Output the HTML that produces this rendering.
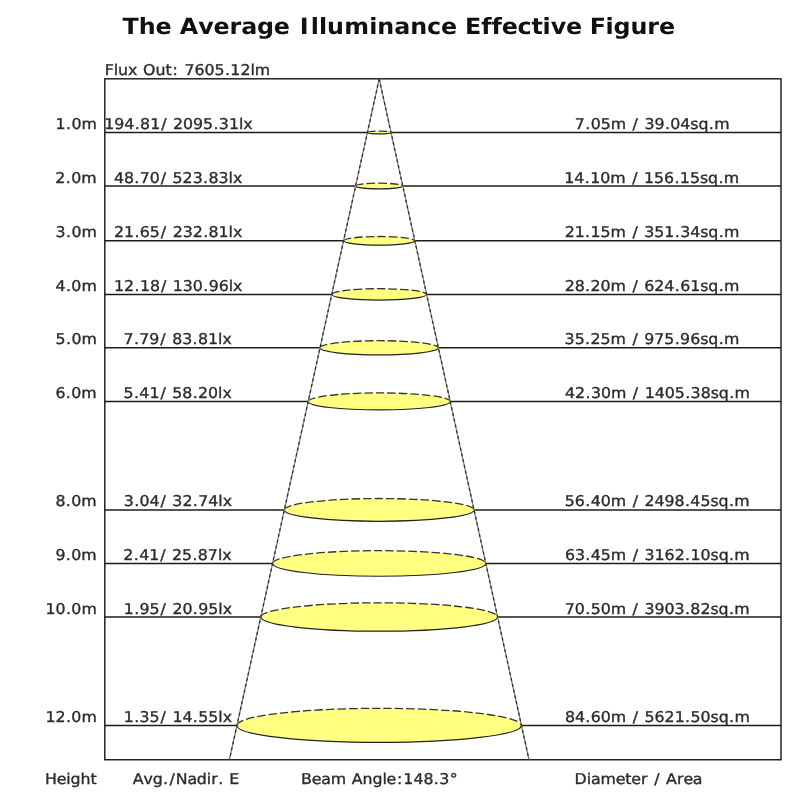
<!DOCTYPE html><html><head><meta charset="utf-8"><title>The Average Illuminance Effective Figure</title>
<style>html,body{margin:0;padding:0;background:#fff;overflow:hidden;}svg{display:block;}text{font-family:"DejaVu Sans", "Liberation Sans", sans-serif;text-rendering:geometricPrecision;}</style></head><body>
<svg width="800" height="800" viewBox="0 0 800 800">
<rect x="0" y="0" width="800" height="800" fill="#fff"/>
<line x1="104.80" y1="132.45" x2="781.00" y2="132.45" stroke="#1c1c1c" stroke-width="1.45"/>
<line x1="104.80" y1="186.00" x2="781.00" y2="186.00" stroke="#1c1c1c" stroke-width="1.45"/>
<line x1="104.80" y1="240.80" x2="781.00" y2="240.80" stroke="#1c1c1c" stroke-width="1.45"/>
<line x1="104.80" y1="294.40" x2="781.00" y2="294.40" stroke="#1c1c1c" stroke-width="1.45"/>
<line x1="104.80" y1="347.80" x2="781.00" y2="347.80" stroke="#1c1c1c" stroke-width="1.45"/>
<line x1="104.80" y1="401.45" x2="781.00" y2="401.45" stroke="#1c1c1c" stroke-width="1.45"/>
<line x1="104.80" y1="509.90" x2="781.00" y2="509.90" stroke="#1c1c1c" stroke-width="1.45"/>
<line x1="104.80" y1="563.45" x2="781.00" y2="563.45" stroke="#1c1c1c" stroke-width="1.45"/>
<line x1="104.80" y1="617.00" x2="781.00" y2="617.00" stroke="#1c1c1c" stroke-width="1.45"/>
<line x1="104.80" y1="725.40" x2="781.00" y2="725.40" stroke="#1c1c1c" stroke-width="1.45"/>
<rect x="104.80" y="78.80" width="676.20" height="680.95" fill="none" stroke="#1c1c1c" stroke-width="1.45"/>
<ellipse cx="379.20" cy="132.45" rx="11.80" ry="1.42" fill="#ffff80" stroke="none"/>
<path d="M367.40 132.45 A11.80 1.42 0 0 0 391.00 132.45" fill="none" stroke="#222" stroke-width="1.20"/>
<path d="M367.40 132.45 A11.80 1.42 0 0 1 391.00 132.45" fill="none" stroke="#35352a" stroke-width="1.30" stroke-dasharray="8.5 3" stroke-dashoffset="0.00"/>
<ellipse cx="379.20" cy="186.00" rx="23.58" ry="2.83" fill="#ffff80" stroke="none"/>
<path d="M355.62 186.00 A23.58 2.83 0 0 0 402.78 186.00" fill="none" stroke="#222" stroke-width="1.20"/>
<path d="M355.62 186.00 A23.58 2.83 0 0 1 402.78 186.00" fill="none" stroke="#35352a" stroke-width="1.30" stroke-dasharray="8.5 3" stroke-dashoffset="0.00"/>
<ellipse cx="379.20" cy="240.80" rx="35.64" ry="4.28" fill="#ffff80" stroke="none"/>
<path d="M343.56 240.80 A35.64 4.28 0 0 0 414.84 240.80" fill="none" stroke="#222" stroke-width="1.20"/>
<path d="M343.56 240.80 A35.64 4.28 0 0 1 414.84 240.80" fill="none" stroke="#35352a" stroke-width="1.30" stroke-dasharray="8.5 3" stroke-dashoffset="0.00"/>
<ellipse cx="379.20" cy="294.40" rx="47.43" ry="5.69" fill="#ffff80" stroke="none"/>
<path d="M331.77 294.40 A47.43 5.69 0 0 0 426.63 294.40" fill="none" stroke="#222" stroke-width="1.20"/>
<path d="M331.77 294.40 A47.43 5.69 0 0 1 426.63 294.40" fill="none" stroke="#35352a" stroke-width="1.30" stroke-dasharray="8.5 3" stroke-dashoffset="0.00"/>
<ellipse cx="379.20" cy="347.80" rx="59.18" ry="7.10" fill="#ffff80" stroke="none"/>
<path d="M320.02 347.80 A59.18 7.10 0 0 0 438.38 347.80" fill="none" stroke="#222" stroke-width="1.20"/>
<path d="M320.02 347.80 A59.18 7.10 0 0 1 438.38 347.80" fill="none" stroke="#35352a" stroke-width="1.30" stroke-dasharray="8.5 3" stroke-dashoffset="0.00"/>
<ellipse cx="379.20" cy="401.45" rx="70.98" ry="8.52" fill="#ffff80" stroke="none"/>
<path d="M308.22 401.45 A70.98 8.52 0 0 0 450.18 401.45" fill="none" stroke="#222" stroke-width="1.20"/>
<path d="M308.22 401.45 A70.98 8.52 0 0 1 450.18 401.45" fill="none" stroke="#35352a" stroke-width="1.30" stroke-dasharray="8.5 3" stroke-dashoffset="0.00"/>
<ellipse cx="379.20" cy="509.90" rx="94.84" ry="11.38" fill="#ffff80" stroke="none"/>
<path d="M284.36 509.90 A94.84 11.38 0 0 0 474.04 509.90" fill="none" stroke="#222" stroke-width="1.20"/>
<path d="M284.36 509.90 A94.84 11.38 0 0 1 474.04 509.90" fill="none" stroke="#35352a" stroke-width="1.30" stroke-dasharray="8.5 3" stroke-dashoffset="0.00"/>
<ellipse cx="379.20" cy="563.45" rx="106.62" ry="12.79" fill="#ffff80" stroke="none"/>
<path d="M272.58 563.45 A106.62 12.79 0 0 0 485.82 563.45" fill="none" stroke="#222" stroke-width="1.20"/>
<path d="M272.58 563.45 A106.62 12.79 0 0 1 485.82 563.45" fill="none" stroke="#35352a" stroke-width="1.30" stroke-dasharray="8.5 3" stroke-dashoffset="0.00"/>
<ellipse cx="379.20" cy="617.00" rx="118.40" ry="14.21" fill="#ffff80" stroke="none"/>
<path d="M260.80 617.00 A118.40 14.21 0 0 0 497.60 617.00" fill="none" stroke="#222" stroke-width="1.20"/>
<path d="M260.80 617.00 A118.40 14.21 0 0 1 497.60 617.00" fill="none" stroke="#35352a" stroke-width="1.30" stroke-dasharray="8.5 3" stroke-dashoffset="0.00"/>
<ellipse cx="379.20" cy="725.40" rx="142.25" ry="17.07" fill="#ffff80" stroke="none"/>
<path d="M236.95 725.40 A142.25 17.07 0 0 0 521.45 725.40" fill="none" stroke="#222" stroke-width="1.20"/>
<path d="M236.95 725.40 A142.25 17.07 0 0 1 521.45 725.40" fill="none" stroke="#35352a" stroke-width="1.30" stroke-dasharray="8.5 3" stroke-dashoffset="0.00"/>
<line x1="379.20" y1="78.80" x2="229.39" y2="759.75" stroke="#858585" stroke-width="1.30"/>
<line x1="379.20" y1="78.80" x2="229.39" y2="759.75" stroke="#2a2a2a" stroke-width="1.20" stroke-dasharray="3 2.9"/>
<line x1="379.20" y1="78.80" x2="529.01" y2="759.75" stroke="#858585" stroke-width="1.30"/>
<line x1="379.20" y1="78.80" x2="529.01" y2="759.75" stroke="#2a2a2a" stroke-width="1.20" stroke-dasharray="3 2.9"/>
<g style="filter:grayscale(1)">
<text transform="scale(1.0625,1)" x="115.39 130.67 146.46 161.43 169.18 186.54 200.98 216.06 227.07 241.92 257.61 272.58 282.24 292.50 300.16 307.84 323.96 347.47 355.14 371.02 386.06 401.95 415.02 429.98 437.71 452.97 462.65 472.20 487.18 500.16 510.61 518.28 532.73 547.69 555.05 569.97 577.45 593.30 609.29 620.22" y="34.40" font-size="22.40" font-weight="bold" fill="#111" xml:space="preserve">The Average Illuminance Effective Figure</text>
<text transform="scale(1.0604,1)" x="98.74 107.28 111.39 120.82 129.90 134.89 146.61 156.06 162.79 168.94 173.92 183.40 192.88 202.35 212.18 217.25 226.73 236.18 240.28" y="75.20" font-size="14.90" fill="#2b2b2b" stroke="#2b2b2b" stroke-width="0.35" xml:space="preserve">Flux Out: 7605.12lm</text>
<text transform="scale(1.0604,1)" x="52.44 62.27 67.34 76.81" y="128.95" font-size="14.90" fill="#2b2b2b" stroke="#2b2b2b" stroke-width="0.35" xml:space="preserve">1.0m</text>
<text transform="scale(1.0604,1)" x="98.28 107.75 117.23 127.05 132.13 141.61 151.96 158.10 163.09 172.57 182.04 191.52 201.34 206.42 215.90 225.35 229.46" y="128.95" font-size="14.90" fill="#2b2b2b" stroke="#2b2b2b" stroke-width="0.35" xml:space="preserve">194.81/ 2095.31lx</text>
<text transform="scale(1.0604,1)" x="542.12 551.94 557.02 566.49 575.96 590.72 596.59 602.73 607.72 617.20 627.02 632.10 641.57 651.05 658.73 668.44 673.51" y="128.95" font-size="14.90" fill="#2b2b2b" stroke="#2b2b2b" stroke-width="0.35" xml:space="preserve">7.05m / 39.04sq.m</text>
<text transform="scale(1.0604,1)" x="52.22 62.04 67.12 76.59" y="182.50" font-size="14.90" fill="#2b2b2b" stroke="#2b2b2b" stroke-width="0.35" xml:space="preserve">2.0m</text>
<text transform="scale(1.0604,1)" x="107.41 116.88 126.70 131.78 141.26 151.61 157.76 162.74 172.22 181.70 191.52 196.60 206.07 215.52 219.64" y="182.50" font-size="14.90" fill="#2b2b2b" stroke="#2b2b2b" stroke-width="0.35" xml:space="preserve">48.70/ 523.83lx</text>
<text transform="scale(1.0604,1)" x="532.20 541.67 551.49 556.57 566.05 575.52 590.28 596.14 602.29 607.28 616.75 626.23 636.05 641.13 650.61 660.08 667.76 677.47 682.55" y="182.50" font-size="14.90" fill="#2b2b2b" stroke="#2b2b2b" stroke-width="0.35" xml:space="preserve">14.10m / 156.15sq.m</text>
<text transform="scale(1.0604,1)" x="52.44 62.26 67.34 76.81" y="237.30" font-size="14.90" fill="#2b2b2b" stroke="#2b2b2b" stroke-width="0.35" xml:space="preserve">3.0m</text>
<text transform="scale(1.0604,1)" x="107.46 116.94 126.76 131.84 141.31 151.66 157.81 162.80 172.27 181.75 191.57 196.65 206.13 215.58 219.69" y="237.30" font-size="14.90" fill="#2b2b2b" stroke="#2b2b2b" stroke-width="0.35" xml:space="preserve">21.65/ 232.81lx</text>
<text transform="scale(1.0604,1)" x="532.47 541.95 551.77 556.85 566.32 575.79 590.55 596.41 602.56 607.55 617.03 626.50 636.32 641.40 650.88 660.36 668.03 677.75 682.82" y="237.30" font-size="14.90" fill="#2b2b2b" stroke="#2b2b2b" stroke-width="0.35" xml:space="preserve">21.15m / 351.34sq.m</text>
<text transform="scale(1.0604,1)" x="52.40 62.23 67.30 76.77" y="290.90" font-size="14.90" fill="#2b2b2b" stroke="#2b2b2b" stroke-width="0.35" xml:space="preserve">4.0m</text>
<text transform="scale(1.0604,1)" x="107.56 117.04 126.86 131.94 141.42 151.77 157.91 162.90 172.38 181.86 191.68 196.76 206.23 215.68 219.79" y="290.90" font-size="14.90" fill="#2b2b2b" stroke="#2b2b2b" stroke-width="0.35" xml:space="preserve">12.18/ 130.96lx</text>
<text transform="scale(1.0604,1)" x="532.47 541.95 551.77 556.85 566.32 575.79 590.55 596.41 602.56 607.55 617.03 626.50 636.32 641.40 650.88 660.36 668.03 677.75 682.82" y="290.90" font-size="14.90" fill="#2b2b2b" stroke="#2b2b2b" stroke-width="0.35" xml:space="preserve">28.20m / 624.61sq.m</text>
<text transform="scale(1.0604,1)" x="52.43 62.25 67.33 76.80" y="344.30" font-size="14.90" fill="#2b2b2b" stroke="#2b2b2b" stroke-width="0.35" xml:space="preserve">5.0m</text>
<text transform="scale(1.0604,1)" x="116.49 126.31 131.39 140.87 151.22 157.37 162.36 171.83 181.65 186.73 196.21 205.66 209.77" y="344.30" font-size="14.90" fill="#2b2b2b" stroke="#2b2b2b" stroke-width="0.35" xml:space="preserve">7.79/ 83.81lx</text>
<text transform="scale(1.0604,1)" x="532.45 541.92 551.75 556.82 566.30 575.77 590.53 596.39 602.54 607.53 617.00 626.48 636.30 641.38 650.86 660.34 668.01 677.72 682.80" y="344.30" font-size="14.90" fill="#2b2b2b" stroke="#2b2b2b" stroke-width="0.35" xml:space="preserve">35.25m / 975.96sq.m</text>
<text transform="scale(1.0604,1)" x="52.25 62.07 67.15 76.62" y="397.95" font-size="14.90" fill="#2b2b2b" stroke="#2b2b2b" stroke-width="0.35" xml:space="preserve">6.0m</text>
<text transform="scale(1.0604,1)" x="116.53 126.35 131.43 140.91 151.26 157.40 162.39 171.87 181.69 186.77 196.24 205.69 209.81" y="397.95" font-size="14.90" fill="#2b2b2b" stroke="#2b2b2b" stroke-width="0.35" xml:space="preserve">5.41/ 58.20lx</text>
<text transform="scale(1.0604,1)" x="532.86 542.34 552.16 557.24 566.72 576.19 590.95 596.81 602.96 607.94 617.42 626.90 636.37 646.20 651.27 660.75 670.23 677.90 687.62 692.69" y="397.95" font-size="14.90" fill="#2b2b2b" stroke="#2b2b2b" stroke-width="0.35" xml:space="preserve">42.30m / 1405.38sq.m</text>
<text transform="scale(1.0604,1)" x="52.26 62.08 67.16 76.63" y="506.40" font-size="14.90" fill="#2b2b2b" stroke="#2b2b2b" stroke-width="0.35" xml:space="preserve">8.0m</text>
<text transform="scale(1.0604,1)" x="116.68 126.50 131.58 141.05 151.40 157.55 162.54 172.02 181.84 186.92 196.39 205.84 209.96" y="506.40" font-size="14.90" fill="#2b2b2b" stroke="#2b2b2b" stroke-width="0.35" xml:space="preserve">3.04/ 32.74lx</text>
<text transform="scale(1.0604,1)" x="532.65 542.13 551.95 557.03 566.51 575.98 590.74 596.60 602.75 607.73 617.21 626.69 636.16 645.98 651.06 660.54 670.02 677.69 687.41 692.48" y="506.40" font-size="14.90" fill="#2b2b2b" stroke="#2b2b2b" stroke-width="0.35" xml:space="preserve">56.40m / 2498.45sq.m</text>
<text transform="scale(1.0604,1)" x="52.30 62.12 67.20 76.67" y="559.95" font-size="14.90" fill="#2b2b2b" stroke="#2b2b2b" stroke-width="0.35" xml:space="preserve">9.0m</text>
<text transform="scale(1.0604,1)" x="116.32 126.14 131.22 140.70 151.05 157.20 162.18 171.66 181.48 186.56 196.04 205.49 209.60" y="559.95" font-size="14.90" fill="#2b2b2b" stroke="#2b2b2b" stroke-width="0.35" xml:space="preserve">2.41/ 25.87lx</text>
<text transform="scale(1.0604,1)" x="532.71 542.18 552.01 557.08 566.56 576.03 590.79 596.65 602.80 607.79 617.26 626.74 636.22 646.04 651.12 660.59 670.07 677.75 687.46 692.53" y="559.95" font-size="14.90" fill="#2b2b2b" stroke="#2b2b2b" stroke-width="0.35" xml:space="preserve">63.45m / 3162.10sq.m</text>
<text transform="scale(1.0604,1)" x="42.92 52.40 62.22 67.30 76.77" y="613.50" font-size="14.90" fill="#2b2b2b" stroke="#2b2b2b" stroke-width="0.35" xml:space="preserve">10.0m</text>
<text transform="scale(1.0604,1)" x="116.71 126.53 131.61 141.09 151.44 157.58 162.57 172.05 181.87 186.95 196.43 205.87 209.99" y="613.50" font-size="14.90" fill="#2b2b2b" stroke="#2b2b2b" stroke-width="0.35" xml:space="preserve">1.95/ 20.95lx</text>
<text transform="scale(1.0604,1)" x="532.62 542.09 551.91 556.99 566.47 575.94 590.70 596.56 602.71 607.70 617.17 626.65 636.13 645.95 651.03 660.50 669.98 677.66 687.37 692.44" y="613.50" font-size="14.90" fill="#2b2b2b" stroke="#2b2b2b" stroke-width="0.35" xml:space="preserve">70.50m / 3903.82sq.m</text>
<text transform="scale(1.0604,1)" x="42.92 52.40 62.22 67.30 76.77" y="721.90" font-size="14.90" fill="#2b2b2b" stroke="#2b2b2b" stroke-width="0.35" xml:space="preserve">12.0m</text>
<text transform="scale(1.0604,1)" x="116.71 126.53 131.61 141.09 151.44 157.58 162.57 172.05 181.87 186.95 196.43 205.87 209.99" y="721.90" font-size="14.90" fill="#2b2b2b" stroke="#2b2b2b" stroke-width="0.35" xml:space="preserve">1.35/ 14.55lx</text>
<text transform="scale(1.0604,1)" x="532.72 542.20 552.02 557.10 566.57 576.04 590.80 596.67 602.81 607.80 617.28 626.76 636.23 646.05 651.13 660.61 670.09 677.76 687.48 692.55" y="721.90" font-size="14.90" fill="#2b2b2b" stroke="#2b2b2b" stroke-width="0.35" xml:space="preserve">84.60m / 5621.50sq.m</text>
<text transform="scale(1.0604,1)" x="42.39 53.44 62.44 66.46 75.83 85.28" y="784.45" font-size="14.90" fill="#2b2b2b" stroke="#2b2b2b" stroke-width="0.35" xml:space="preserve">Height</text>
<text transform="scale(1.0604,1)" x="125.18 135.37 144.10 153.82 159.77 165.66 176.72 185.67 195.02 199.25 205.83 211.17 216.16" y="784.45" font-size="14.90" fill="#2b2b2b" stroke="#2b2b2b" stroke-width="0.35" xml:space="preserve">Avg./Nadir. E</text>
<text transform="scale(1.0604,1)" x="283.96 294.04 302.97 312.01 326.77 331.76 341.94 351.29 360.63 364.60 374.50 380.39 389.86 399.34 409.16 414.24 424.03" y="784.45" font-size="14.90" fill="#2b2b2b" stroke="#2b2b2b" stroke-width="0.35" xml:space="preserve">Beam Angle:148.3°</text>
<text transform="scale(1.0604,1)" x="541.80 553.25 557.27 566.31 580.67 589.71 595.42 604.56 611.06 616.93 623.07 628.06 638.37 644.47 653.41" y="784.45" font-size="14.90" fill="#2b2b2b" stroke="#2b2b2b" stroke-width="0.35" xml:space="preserve">Diameter / Area</text>
</g>
</svg></body></html>
